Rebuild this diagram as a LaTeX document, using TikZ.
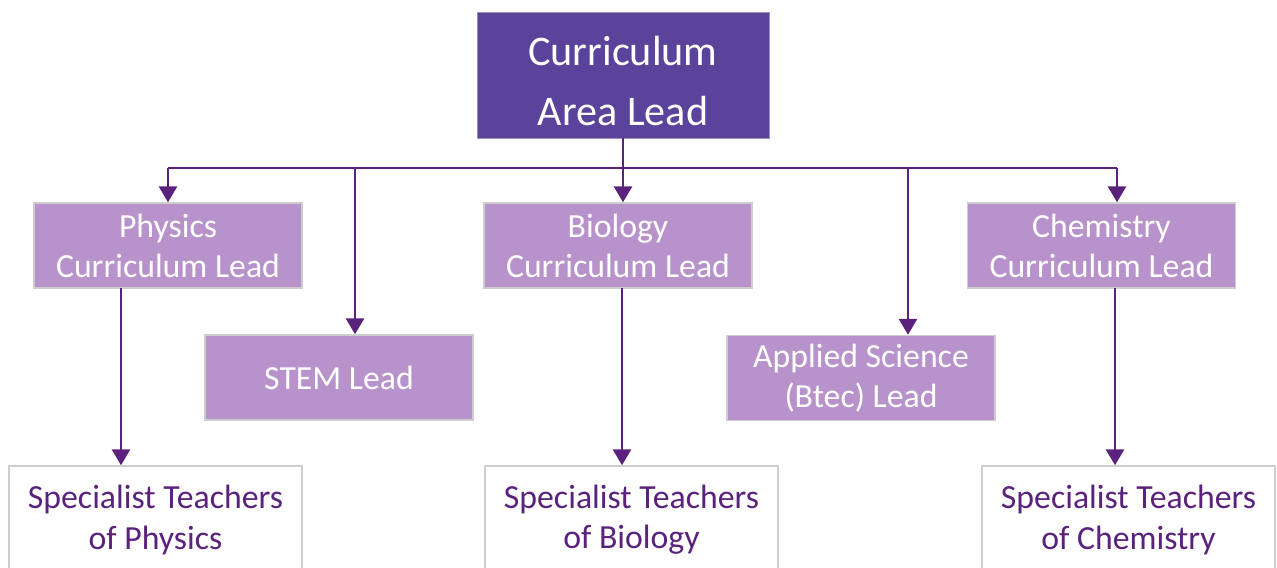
\documentclass[tikz,border=0pt]{standalone}
\usepackage{fontspec}
\setmainfont{Carlito}
\usetikzlibrary{arrows.meta}

\definecolor{areapurple}{RGB}{91,67,155}
\definecolor{leadlilac}{RGB}{184,147,203}
\definecolor{linkpurple}{RGB}{90,34,125}
\definecolor{edgegrey}{RGB}{206,206,206}

\tikzstyle{area}=[rectangle,fill=areapurple,draw=areapurple!60!white,line width=0.6pt,text=white,align=center,font=\fontsize{30}{42.7}\selectfont,minimum width=7.3cm,minimum height=3.15cm]
\tikzstyle{lead}=[rectangle,fill=leadlilac,draw=edgegrey,line width=1pt,text=white,align=center,font=\fontsize{24}{28.5}\selectfont,minimum width=6.7cm,minimum height=2.125cm,inner sep=0pt]
\tikzstyle{staff}=[rectangle,fill=white,draw=edgegrey,line width=1pt,text=linkpurple,align=center,font=\fontsize{24}{28.5}\selectfont,minimum width=7.33cm,minimum height=2.7cm,inner sep=0pt]
\tikzstyle{link}=[draw=linkpurple,line width=2.1pt,-{Triangle[width=0.45cm,length=0.4cm]}]

\begin{document}
\begin{tikzpicture}[x=0.025cm,y=-0.025cm]
	\useasboundingbox (0,0) rectangle (1277,567);

	\node[area] (area) at (623,75) {\rule{0pt}{1.05cm}Curriculum\\Area Lead};

	% Leads
	\node[lead] (phys) at (168,245.5) {Physics\\Curriculum Lead};
	\node[lead] (stem) at (339,377.5) {STEM Lead};
	\node[lead] (bio) at (618,245.5) {Biology\\Curriculum Lead};
	\node[lead] (appl) at (861,378) {Applied Science\\(Btec) Lead};
	\node[lead] (chem) at (1101.5,245.5) {Chemistry\\Curriculum Lead};

	% Teachers
	\node[staff] (physstaff) at (155.5,520) {Specialist Teachers\\of Physics};
	\node[staff] (biostaff) at (631.5,520) {Specialist Teachers\\of Biology};
	\node[staff] (chemstaff) at (1128.5,520) {Specialist Teachers\\of Chemistry};

	% Bus
	\coordinate (physdrop) at (168,168);
	\coordinate (stemdrop) at (355,168);
	\coordinate (appldrop) at (908,168);
	\coordinate (chemdrop) at (1117,168);
	\draw[linkpurple,line width=2.1pt] (physdrop) -- (chemdrop);

	\draw[link] (area.south) -- (area.south |- bio.north);
	\draw[link] (physdrop) -- (physdrop |- phys.north);
	\draw[link] (stemdrop) -- (stemdrop |- stem.north);
	\draw[link] (appldrop) -- (appldrop |- appl.north);
	\draw[link] (chemdrop) -- (chemdrop |- chem.north);

	% Down to teachers
	\coordinate (physfeed) at (121,288);
	\coordinate (biofeed) at (622,288);
	\coordinate (chemfeed) at (1115,288);
	\draw[link] (physfeed) -- (physfeed |- physstaff.north);
	\draw[link] (biofeed) -- (biofeed |- biostaff.north);
	\draw[link] (chemfeed) -- (chemfeed |- chemstaff.north);
\end{tikzpicture}
\end{document}
